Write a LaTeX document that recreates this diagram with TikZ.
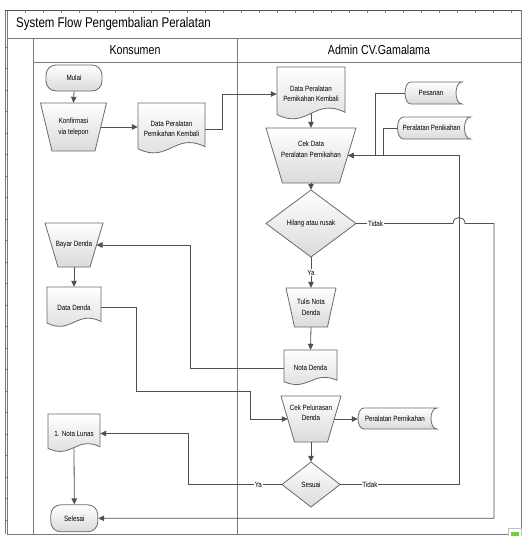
\documentclass[tikz,border=0pt]{standalone}
\usepackage{fontspec}
\setmainfont[FakeStretch=0.82]{Liberation Sans}
\usetikzlibrary{arrows.meta,calc}

\definecolor{lineC}{HTML}{505050}
\definecolor{borderC}{HTML}{6A6A6A}
\definecolor{frameC}{HTML}{7A7A7A}
\definecolor{shadeC}{HTML}{DADADA}
\definecolor{okgreen}{HTML}{6FD23A}

\tikzset{
  shapeline/.style={draw=borderC, line width=0.8pt, top color=white, bottom color=shadeC},
  term/.style={shapeline, rectangle, rounded corners=10pt, inner sep=0pt},
  txt/.style={font=\fontsize{7.6}{10.5}\selectfont, align=center, inner sep=0pt},
  conn/.style={draw=lineC, line width=0.8pt},
  arr/.style={conn, -{Triangle[length=6pt,width=5.5pt]}},
  lbl/.style={txt, fill=white, inner sep=0.8pt},
  frame/.style={draw=frameC, line width=0.8pt},
  lanetitle/.style={font=\fontsize{13}{15}\selectfont, inner sep=0pt},
}

% document shape: name, cx, cy, w, h, text
\newcommand\docnode[6]{%
  \path[shapeline] (#2-#4/2,#3-#5/2) -- (#2+#4/2,#3-#5/2) -- (#2+#4/2,#3-#5/2+0.84*#5)
    .. controls (#2-#4/2+0.55*#4,#3-#5/2+0.55*#5) and (#2-#4/2+0.45*#4,#3-#5/2+1.17*#5)
    .. (#2-#4/2,#3-#5/2+0.88*#5) -- cycle;
  \node[txt, minimum width=#4, minimum height=#5] (#1) at (#2,#3) {#6};
  \coordinate (#1-b) at (#2,#3-#5/2+0.86*#5);
}
% stored data shape: name, cx, cy, w, h, text
\newcommand\storenode[6]{%
  \path[shapeline] (#2-#4/2+6,#3-#5/2) -- (#2+#4/2,#3-#5/2)
    .. controls (#2+#4/2-8,#3-#5/2) and (#2+#4/2-8,#3+#5/2) .. (#2+#4/2,#3+#5/2)
    -- (#2-#4/2+6,#3+#5/2)
    .. controls (#2-#4/2-2,#3+#5/2) and (#2-#4/2-2,#3-#5/2) .. (#2-#4/2+6,#3-#5/2) -- cycle;
  \node[txt, minimum width=#4, minimum height=#5] (#1) at (#2,#3) {};
  \node[txt] (#1-t) at (#2-2.5,#3) {#6};
}
% manual operation (trapezium): name, cx, cy, top width, bottom width, h, text dy, text
\newcommand\trapnode[8]{%
  \path[shapeline] (#2-#4/2,#3-#6/2) -- (#2+#4/2,#3-#6/2) -- (#2+#5/2,#3+#6/2) -- (#2-#5/2,#3+#6/2) -- cycle;
  \node[txt, minimum width=#4, minimum height=#6] (#1) at (#2,#3) {};
  \node[txt] (#1-t) at (#2,#3+#7) {#8};
  \coordinate (#1-e) at (#2+#4/4+#5/4,#3);
  \coordinate (#1-w) at (#2-#4/4-#5/4,#3);
}
% decision (diamond): name, cx, cy, w, h, text
\newcommand\decnode[6]{%
  \path[shapeline] (#2,#3-#5/2) -- (#2+#4/2,#3) -- (#2,#3+#5/2) -- (#2-#4/2,#3) -- cycle;
  \node[txt, minimum width=#4, minimum height=#5] (#1) at (#2,#3) {#6};
}

\begin{document}
\begin{tikzpicture}[x=1pt,y=-1pt]
\useasboundingbox (0,0) rectangle (524,536);

% ---------- frame ----------
\draw[frame] (7,10) rectangle (521,534);
\draw[frame] (5,10) -- (5,534);
\draw[draw=lineC, line width=1pt] (5,10) -- (521,10);
\foreach \x in {25,43,...,520} \draw[draw=frameC, line width=0.4pt] (\x,10) -- (\x,12.5);
\foreach \y in {47,68.5,...,530} \draw[draw=frameC, line width=0.4pt] (5,\y) -- (7,\y);
\draw[frame] (7,38) -- (521,38);
\draw[frame] (33,62) -- (521,62);
\draw[frame] (33,38) -- (33,534);
\draw[frame] (237,38) -- (237,534);

\node[anchor=west, font=\fontsize{14}{16}\selectfont, inner sep=0pt] (title) at (16,24) {System Flow Pengembalian Peralatan};
\node[lanetitle] (lane1) at (135,50) {Konsumen};
\node[lanetitle] (lane2) at (379,50) {Admin CV.Gamalama};

% ---------- Konsumen lane ----------
\node[term, minimum width=56, minimum height=26] (mulai) at (74,78) {};
\node[txt] (mulai-t) at (mulai.center) {Mulai};

\trapnode{konf}{73.5}{127}{66}{43}{48}{0}{Konfirmasi\\via telepon}

\docnode{dpk1}{171.5}{129}{67}{52}{Data Peralatan\\Pemikahan Kembali}

\trapnode{bayar}{74}{245}{58}{32}{44}{0}{Bayar Denda}

\docnode{datadenda}{74}{307.5}{54}{41}{Data Denda}
\docnode{notalunas}{74}{433.5}{52}{39}{1. Nota Lunas}

\node[term, minimum width=47, minimum height=27] (selesai) at (74.3,518.3) {};
\node[txt] (selesai-t) at (selesai.center) {Selesai};

% ---------- Admin lane ----------
\docnode{dpk2}{311}{94}{68}{54}{Data Peralatan\\Pemikahan Kembali}

\trapnode{cekdata}{311}{155.5}{90}{57}{55}{-6}{Cek Data\\Peralatan Pemikahan}

\storenode{pesanan}{433.5}{93}{57}{22}{Pesanan}
\storenode{alat1}{434}{128}{73}{22}{Peralatan Penikahan}

\decnode{hilang}{311}{223.5}{90}{67}{Hilang atau rusak}

\trapnode{tulis}{311}{307.5}{50}{33}{39}{0}{Tulis Nota\\Denda}

\docnode{notadenda}{310.5}{368}{53}{36}{Nota Denda}

\trapnode{cekpel}{311}{419}{60}{33}{46}{-6}{Cek Pelunasan\\Denda}

\storenode{alat2}{397.5}{418.5}{79}{21}{Peralatan Pernikahan}

\decnode{sesuai}{311}{484.5}{58}{45}{Sesuai}

% ---------- helper coordinates ----------
\coordinate (xa) at (222,0);
\coordinate (xp) at (375,0);
\coordinate (xq) at (383,0);
\coordinate (xr) at (459,0);
\coordinate (xs) at (494,0);
\coordinate (xn) at (190,0);
\coordinate (xd1) at (136,0);
\coordinate (yd) at (0,391);
\coordinate (xd2) at (250,0);
\coordinate (xl) at (188,0);
\coordinate (hop1) at (453,223.5);
\coordinate (hop2) at (465,223.5);

% ---------- connectors ----------
\draw[arr] (mulai.south) -- (konf.north);
\draw[arr] (konf-e) -- (dpk1.west |- konf-e);
\draw[arr] (dpk1.east) -| (xa |- dpk2.west) -- (dpk2.west);
\draw[arr] (dpk2-b) -- (cekdata.north);
\draw[arr] (cekdata.south) -- (hilang.north);

\draw[conn] (pesanan.west) -| (xp |- cekdata-e);
\draw[conn] (alat1.west) -| (xq |- cekdata-e);

\draw[arr] (sesuai.east) -- node[lbl, pos=0.25] (tdk2) {Tidak} (xr |- sesuai.east) -- (xr |- cekdata-e) -- (cekdata-e);

\draw[arr] (hilang.east) -- node[lbl, pos=0.2] (tdk1) {Tidak} (hop1)
  .. controls (453,215.5) and (465,215.5) .. (hop2) -- (xs |- hilang.east) |- (selesai.east);

\draw[arr] (hilang.south) -- node[lbl, pos=0.5] (ya1) {Ya} (tulis.north);
\draw[arr] (tulis.south) -- (notadenda.north);
\draw[arr] (notadenda.west) -| (xn |- bayar-e) -- (bayar-e);
\draw[arr] (bayar.south) -- (datadenda.north);
\draw[arr] (datadenda.east) -| (xd1 |- yd) -| (xd2 |- cekpel-w) -- (cekpel-w);
\draw[arr] (cekpel-e) -- (alat2.west |- cekpel-e);
\draw[arr] (cekpel.south) -- (sesuai.north);
\draw[arr] (sesuai.west) -- node[lbl, pos=0.25] (ya2) {Ya} (xl |- sesuai.west) |- (notalunas.east);
\draw[arr] (notalunas-b) -- (selesai.north);

% ---------- corner marker ----------
\draw[draw=gray!50, fill=white, line width=0.6pt] (508.5,528) rectangle (521,537);
\fill[okgreen] (511,532) rectangle (519,537);
\end{tikzpicture}
\end{document}
